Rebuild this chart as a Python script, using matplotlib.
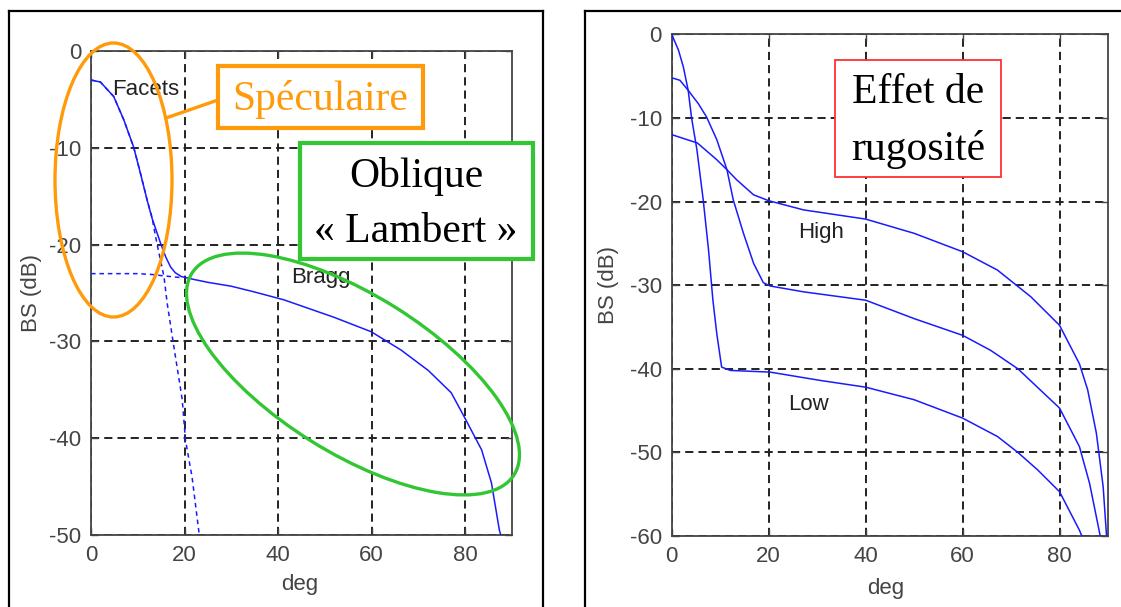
import matplotlib
matplotlib.use("Agg")
import matplotlib.pyplot as plt
from matplotlib.patches import Ellipse, Rectangle
from matplotlib.lines import Line2D

plt.rcParams["axes.unicode_minus"] = False

# ---------------- data ----------------
# Left panel: total backscatter (solid), facet and Bragg components (dashed)
total_deg = [0, 2, 4.85, 7, 9.1, 10.5, 12, 13, 14.9, 16, 17, 18, 19.3, 22, 25, 30, 35,
             41.2, 51.9, 59.9, 66.3, 72.1, 77, 79.8, 83.5, 85.6, 87.3, 87.6]
total_db = [-3, -3.2, -4.7, -7.1, -9.9, -12.5, -15.4, -17.2, -19.9, -21.3, -22.3, -22.9,
            -23.3, -23.6, -23.9, -24.3, -24.9, -25.7, -27.5, -29.0, -30.9, -33.0, -35.3,
            -37.8, -41.2, -44.6, -49.5, -50]
facet_deg = [0, 2, 4.85, 7, 9.1, 10.5, 12, 13, 14.1, 15.6, 16.3, 17.7, 19.5, 20.2, 21.6, 23.1, 23.4]
facet_db = [-3, -3.2, -4.7, -7.1, -9.9, -12.5, -15.4, -17.1, -19.9, -23.3, -26.1, -30.5,
            -36.0, -40.2, -44.0, -49.8, -50]
bragg_deg = [0, 5, 10, 13.4, 15, 17, 19]
bragg_db = [-23.0, -23.0, -23.0, -23.1, -23.2, -23.3, -23.4]

# Right panel: three roughness levels
low_deg = [0, 1.4, 2.4, 3.4, 4.1, 5.2, 6.5, 7.6, 8.5, 9.3, 10.3, 12.1, 20.3, 30.7, 40,
           50, 60, 67.2, 71.4, 75.5, 80, 84.1, 84.6]
low_db = [0, -1.9, -3.9, -6.7, -10.0, -13.8, -19.8, -25.8, -31.8, -35.8, -39.8, -40.2,
          -40.4, -41.4, -42.2, -43.7, -45.9, -48.1, -50.0, -52.1, -54.7, -59.3, -60]
mid_deg = [0, 1.7, 3.4, 5.5, 7.2, 9.3, 11.4, 12.7, 14.8, 16.9, 18.9, 20.3, 27.2, 40, 50,
           60, 65.8, 71.4, 80, 84.1, 86.2, 88.4]
mid_db = [-5.2, -5.5, -6.7, -8.3, -9.9, -12.6, -16.2, -19.8, -23.8, -27.4, -29.7, -30.1,
          -30.8, -31.8, -34.0, -36.0, -37.8, -40.0, -44.7, -49.3, -53.7, -60]
high_deg = [0, 5.3, 9.3, 11.4, 13.4, 16.9, 20, 27.2, 40, 50, 60, 67.2, 74.1, 80, 84.1,
            85.8, 87.6, 89, 89.7]
high_db = [-12, -13, -15, -16.2, -17.4, -19.2, -19.9, -21.0, -22.1, -23.8, -26.0, -28.2,
           -31.4, -34.8, -39.4, -42.5, -47.7, -54.1, -60]

x_ticks = [0, 20, 40, 60, 80]
left_yticks = [0, -10, -20, -30, -40, -50]
right_yticks = [0, -10, -20, -30, -40, -50, -60]

# ---------------- figure ----------------
W, H = 1121, 607
fig = plt.figure(figsize=(W / 100, H / 100), dpi=100)
fig.patch.set_facecolor("white")

SANS = ["Liberation Sans", "DejaVu Sans"]
SERIF = ["Liberation Serif", "DejaVu Serif"]
GRAY = "#444444"
BLUE = "#1a1aff"


def px_axes(l, t, r, b):
    return fig.add_axes([l / W, (H - b) / H, (r - l) / W, (b - t) / H])


def style(ax, yticks, ylim):
    ax.set_xlim(0, 90)
    ax.set_ylim(*ylim)
    ax.set_xticks(x_ticks)
    ax.set_yticks(yticks)
    ax.grid(True, color="#222222", linestyle=(0, (4.2, 2.6)), linewidth=1.4)
    ax.set_axisbelow(True)
    for s in ax.spines.values():
        s.set_color(GRAY)
        s.set_linewidth(1.3)
    ax.tick_params(direction="in", length=5, width=1, colors=GRAY, labelsize=16,
                   pad=7, top=True, right=True)
    for lab in ax.get_xticklabels() + ax.get_yticklabels():
        lab.set_fontfamily(SANS)
        lab.set_color(GRAY)
    ax.set_xlabel("deg", fontsize=16, color=GRAY, family=SANS, va="center")
    ax.set_ylabel("BS (dB)", fontsize=16, color=GRAY, family=SANS, va="center")


# left axes
axL = px_axes(91, 51, 512, 535)
axL.plot(total_deg, total_db, color=BLUE, lw=1.1, zorder=3)
axL.plot(facet_deg, facet_db, color=BLUE, lw=1.1, ls=(0, (3, 2.5)), zorder=3)
axL.plot(bragg_deg, bragg_db, color=BLUE, lw=1.1, ls=(0, (3, 2.5)), zorder=3)
style(axL, left_yticks, (-50, 0))
axL.xaxis.set_label_coords(0.496, -0.103)
axL.yaxis.set_label_coords(-0.142, 0.50)
axL.text(4.6, -4.5, "Facets", fontsize=16, color="#222222", family=SANS, va="baseline")
axL.text(42.7, -24.0, "Bragg", fontsize=16, color="#222222", family=SANS, va="baseline")

# right axes
axR = px_axes(671.7, 34.3, 1108, 536)
axR.plot(low_deg, low_db, color=BLUE, lw=1.1, zorder=3)
axR.plot(mid_deg, mid_db, color=BLUE, lw=1.1, zorder=3)
axR.plot(high_deg, high_db, color=BLUE, lw=1.1, zorder=3)
style(axR, right_yticks, (-60, 0))
axR.xaxis.set_label_coords(0.49, -0.104)
axR.yaxis.set_label_coords(-0.146, 0.50)
axR.text(26.1, -24.4, "High", fontsize=16, color="#222222", family=SANS, va="baseline")
axR.text(24.1, -44.9, "Low", fontsize=16, color="#222222", family=SANS, va="baseline")

# ---------------- overlay for annotations (pixel coordinates) ----------------
ov = fig.add_axes([0, 0, 1, 1], zorder=10)
ov.set_xlim(0, W)
ov.set_ylim(H, 0)
ov.axis("off")
ov.patch.set_alpha(0)

# panel frames
for xs, ys in [([9, 9], [11, 607]), ([9, 542.7], [11, 11]), ([542.7, 542.7], [11, 607]),
               ([585, 585], [11, 607]), ([585, 1121], [11, 11])]:
    ov.add_line(Line2D(xs, ys, color="black", lw=1.6))

ORANGE = "#FF9A0A"
GREEN = "#33C633"
RED = "#FF3030"

# orange ellipse + connector + box
ov.add_patch(Ellipse((113.5, 180), 117, 274, angle=0, fill=False, ec=ORANGE, lw=2.4))
ov.add_line(Line2D([166, 218], [118, 100], color=ORANGE, lw=2.4))
ov.add_patch(Rectangle((218, 66), 205, 62, fc="white", ec=ORANGE, lw=3.0))
ov.text(320.5, 110, "Spéculaire", fontsize=30, color=ORANGE, family=SERIF,
        ha="center", va="baseline")

# green ellipse + box
ov.add_patch(Ellipse((353, 374), 380, 158, angle=32, fill=False, ec=GREEN, lw=2.4))
ov.add_patch(Rectangle((300, 143), 233, 116, fc="white", ec=GREEN, lw=3.0))
ov.text(416, 187, "Oblique", fontsize=30, color="black", family=SERIF,
        ha="center", va="baseline")
ov.text(416, 242, "« Lambert »", fontsize=30, color="black", family=SERIF,
        ha="center", va="baseline")

# red box
ov.add_patch(Rectangle((835, 60), 166, 117, fc="white", ec=RED, lw=1.3))
ov.text(918, 103, "Effet de", fontsize=30, color="black", family=SERIF,
        ha="center", va="baseline")
ov.text(918, 160, "rugosité", fontsize=30, color="black", family=SERIF,
        ha="center", va="baseline")

fig.savefig("out.png", dpi=100, facecolor="white")
